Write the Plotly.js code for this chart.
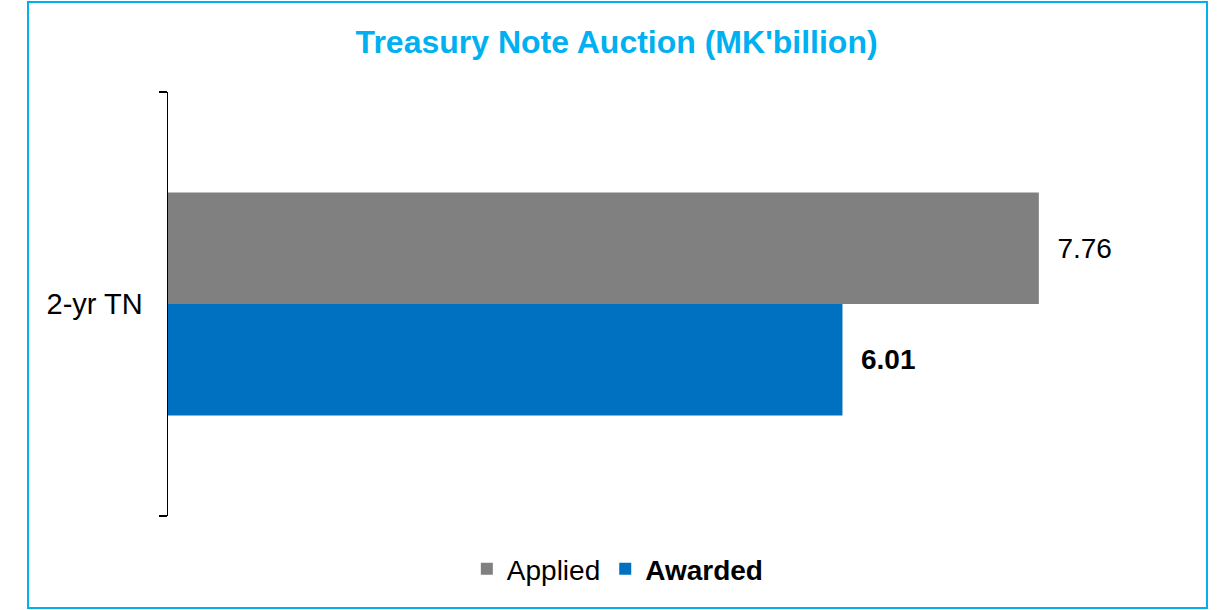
<!DOCTYPE html>
<html>
<head>
<meta charset="utf-8">
<script src="https://cdn.plot.ly/plotly-3.0.1.min.js"></script>
<style>
  html, body { margin: 0; padding: 0; background: #ffffff; }
  #chart { width: 1221px; height: 610px; }
</style>
</head>
<body>
<div id="chart"></div>
<script>
const categories = ['2-yr TN'];
const applied = [7.76];
const awarded = [6.01];
const seriesNames = ['Applied', 'Awarded'];

const FONT = 'Liberation Sans, Arial, sans-serif';

const traces = [
  {
    type: 'bar', orientation: 'h',
    name: seriesNames[0],
    y: categories, x: applied,
    marker: { color: '#808080' },
    text: applied.map(v => '\u00a0\u00a0' + v.toFixed(2)),
    textposition: 'outside',
    textfont: { family: FONT, size: 28, color: '#000000' },
    cliponaxis: false,
    hoverinfo: 'x+name'
  },
  {
    type: 'bar', orientation: 'h',
    name: '<b>' + seriesNames[1] + '</b>',
    y: categories, x: awarded,
    marker: { color: '#0070C0' },
    text: awarded.map(v => '\u00a0\u00a0' + v.toFixed(2)),
    textposition: 'outside',
    textfont: { family: FONT, size: 28, color: '#000000', weight: 'bold' },
    cliponaxis: false,
    hoverinfo: 'x+name'
  }
];

const layout = {
  width: 1221, height: 610,
  margin: { l: 168, r: 43, t: 92, b: 94 },
  paper_bgcolor: '#ffffff', plot_bgcolor: '#ffffff',
  font: { family: FONT, size: 28, color: '#000000' },
  title: {
    text: "<b>Treasury Note Auction (MK'billion)</b>",
    font: { family: FONT, size: 32, color: '#00B0F0' },
    xref: 'container', x: 0.505, xanchor: 'center',
    yref: 'container', y: 0.931, yanchor: 'middle'
  },
  barmode: 'group',
  bargap: 0.474,
  bargroupgap: 0,
  xaxis: {
    range: [0, 9], visible: false, showgrid: false, zeroline: false, fixedrange: true
  },
  yaxis: {
    type: 'category',
    range: [0.5, -0.5],
    showline: true, linecolor: '#000000', linewidth: 1.5,
    ticks: 'outside', tickson: 'boundaries', ticklen: 8, tickwidth: 1.5, tickcolor: '#000000',
    ticklabelstandoff: 18,
    tickfont: { family: FONT, size: 29, color: '#000000' },
    showgrid: false, zeroline: false, fixedrange: true
  },
  showlegend: true,
  legend: {
    orientation: 'h',
    xref: 'container', x: 0.506, xanchor: 'center',
    yref: 'container', y: 1 - 569 / 610, yanchor: 'middle',
    font: { family: FONT, size: 28, color: '#000000' },
    bgcolor: 'rgba(0,0,0,0)'
  },
  shapes: [
    {
      type: 'rect', xref: 'paper', yref: 'paper',
      x0: (28 - 168) / 1010, x1: (1207 - 168) / 1010,
      y0: (516 - 608) / 424, y1: (516 - 2) / 424,
      line: { color: '#00B0F0', width: 2 },
      fillcolor: 'rgba(0,0,0,0)', layer: 'below'
    }
  ]
};

Plotly.newPlot('chart', traces, layout, { displayModeBar: false, staticPlot: true });
</script>
</body>
</html>
